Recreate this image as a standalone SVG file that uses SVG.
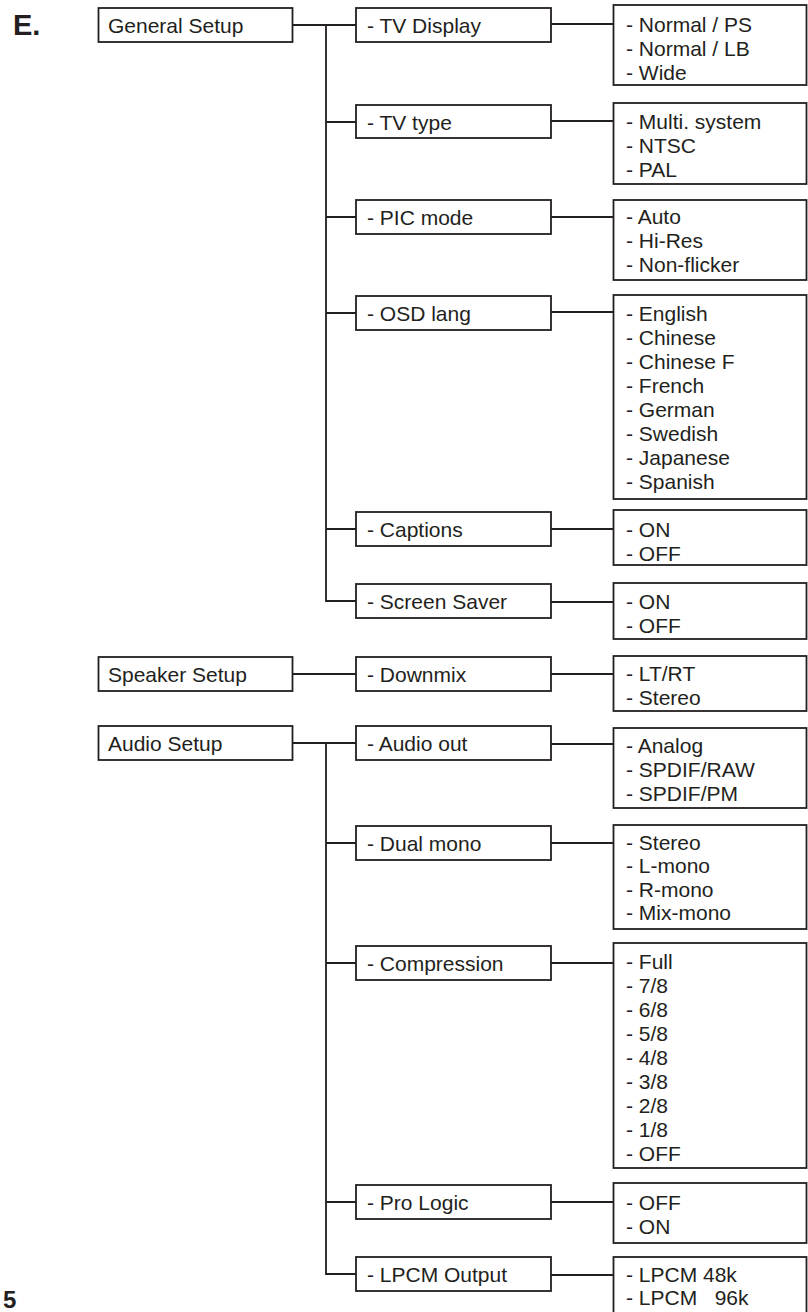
<svg xmlns="http://www.w3.org/2000/svg" width="808" height="1312" viewBox="0 0 808 1312">
<style>
  .box { fill: #ffffff; stroke: #231f20; stroke-width: 1.8; }
  .ln { fill: none; stroke: #231f20; stroke-width: 1.8; }
  text { font-family: "Liberation Sans", Arial, sans-serif; font-size: 21px; fill: #231f20; }
  .big { font-weight: bold; font-size: 29px; }
  .pg { font-weight: bold; font-size: 24px; }
</style>
<rect width="808" height="1312" fill="#ffffff"/>
<text class="big" x="13" y="35">E.</text>
<text class="pg" x="3" y="1308">5</text>

<g id="connectors">
  <!-- General Setup -->
  <path class="ln" d="M293 25 H356"/>
  <path class="ln" d="M326 25 V601 H356"/>
  <path class="ln" d="M326 122 H356 M326 217 H356 M326 313 H356 M326 529 H356"/>
  <!-- Speaker Setup -->
  <path class="ln" d="M293 674 H356"/>
  <!-- Audio Setup -->
  <path class="ln" d="M293 743 H356"/>
  <path class="ln" d="M326 743 V1274 H356"/>
  <path class="ln" d="M326 843 H356 M326 963 H356 M326 1202 H356"/>
  <!-- second to third level -->
  <path class="ln" d="M551 24 H613 M551 121 H613 M551 217 H613 M551 312 H613 M551 529 H613 M551 602 H613 M551 674 H613 M551 744 H613 M551 843 H613 M551 963 H613 M551 1202 H613 M551 1275 H613"/>
</g>

<g id="general-setup"><rect class="box" x="98.5" y="8" width="194" height="34"/><text x="108" y="33">General Setup</text></g>
<g id="speaker-setup"><rect class="box" x="98.5" y="657" width="194" height="34"/><text x="108" y="682">Speaker Setup</text></g>
<g id="audio-setup"><rect class="box" x="98.5" y="726" width="194" height="34"/><text x="108" y="751">Audio Setup</text></g>

<g id="tv-display"><rect class="box" x="356" y="8" width="195" height="34"/><text x="367" y="33">- TV Display</text></g>
<g id="tv-type"><rect class="box" x="356" y="105" width="195" height="33"/><text x="367" y="130">- TV type</text></g>
<g id="pic-mode"><rect class="box" x="356" y="200" width="195" height="34"/><text x="367" y="225">- PIC mode</text></g>
<g id="osd-lang"><rect class="box" x="356" y="296" width="195" height="34"/><text x="367" y="321">- OSD lang</text></g>
<g id="captions"><rect class="box" x="356" y="512" width="195" height="34"/><text x="367" y="537">- Captions</text></g>
<g id="screen-saver"><rect class="box" x="356" y="584" width="195" height="34"/><text x="367" y="609">- Screen Saver</text></g>
<g id="downmix"><rect class="box" x="356" y="657" width="195" height="34"/><text x="367" y="682">- Downmix</text></g>
<g id="audio-out"><rect class="box" x="356" y="726" width="195" height="34"/><text x="367" y="751">- Audio out</text></g>
<g id="dual-mono"><rect class="box" x="356" y="826" width="195" height="34"/><text x="367" y="851">- Dual mono</text></g>
<g id="compression"><rect class="box" x="356" y="946" width="195" height="34"/><text x="367" y="971">- Compression</text></g>
<g id="pro-logic"><rect class="box" x="356" y="1185" width="195" height="34"/><text x="367" y="1210">- Pro Logic</text></g>
<g id="lpcm-output"><rect class="box" x="356" y="1257" width="195" height="34"/><text x="367" y="1282">- LPCM Output</text></g>

<g id="opt-tv-display"><rect class="box" x="613.5" y="5" width="193" height="80"/>
  <text x="626" y="32">- Normal / PS</text><text x="626" y="56">- Normal / LB</text><text x="626" y="80">- Wide</text></g>
<g id="opt-tv-type"><rect class="box" x="613.5" y="103" width="193" height="81"/>
  <text x="626" y="129">- Multi. system</text><text x="626" y="153">- NTSC</text><text x="626" y="177">- PAL</text></g>
<g id="opt-pic-mode"><rect class="box" x="613.5" y="200" width="193" height="80"/>
  <text x="626" y="224">- Auto</text><text x="626" y="248">- Hi-Res</text><text x="626" y="272">- Non-flicker</text></g>
<g id="opt-osd-lang"><rect class="box" x="613.5" y="295" width="193" height="204"/>
  <text x="626" y="321">- English</text><text x="626" y="345">- Chinese</text><text x="626" y="369">- Chinese F</text><text x="626" y="393">- French</text>
  <text x="626" y="417">- German</text><text x="626" y="441">- Swedish</text><text x="626" y="465">- Japanese</text><text x="626" y="489">- Spanish</text></g>
<g id="opt-captions"><rect class="box" x="613.5" y="510" width="193" height="55"/>
  <text x="626" y="537">- ON</text><text x="626" y="561">- OFF</text></g>
<g id="opt-screen-saver"><rect class="box" x="613.5" y="583" width="193" height="56"/>
  <text x="626" y="609">- ON</text><text x="626" y="633">- OFF</text></g>
<g id="opt-downmix"><rect class="box" x="613.5" y="656" width="193" height="55"/>
  <text x="626" y="681">- LT/RT</text><text x="626" y="705">- Stereo</text></g>
<g id="opt-audio-out"><rect class="box" x="613.5" y="728" width="193" height="80"/>
  <text x="626" y="753">- Analog</text><text x="626" y="777">- SPDIF/RAW</text><text x="626" y="801">- SPDIF/PM</text></g>
<g id="opt-dual-mono"><rect class="box" x="613.5" y="825" width="193" height="104"/>
  <text x="626" y="850">- Stereo</text><text x="626" y="873">- L-mono</text><text x="626" y="896.5">- R-mono</text><text x="626" y="920">- Mix-mono</text></g>
<g id="opt-compression"><rect class="box" x="613.5" y="943" width="193" height="225"/>
  <text x="626" y="969">- Full</text><text x="626" y="993">- 7/8</text><text x="626" y="1017">- 6/8</text><text x="626" y="1041">- 5/8</text>
  <text x="626" y="1065">- 4/8</text><text x="626" y="1089">- 3/8</text><text x="626" y="1113">- 2/8</text><text x="626" y="1137">- 1/8</text><text x="626" y="1161">- OFF</text></g>
<g id="opt-pro-logic"><rect class="box" x="613.5" y="1183" width="193" height="60"/>
  <text x="626" y="1210">- OFF</text><text x="626" y="1234">- ON</text></g>
<g id="opt-lpcm-output"><rect class="box" x="613.5" y="1257" width="193" height="75"/>
  <text x="626" y="1282">- LPCM 48k</text><text x="626" y="1305" xml:space="preserve">- LPCM   96k</text></g>
</svg>
